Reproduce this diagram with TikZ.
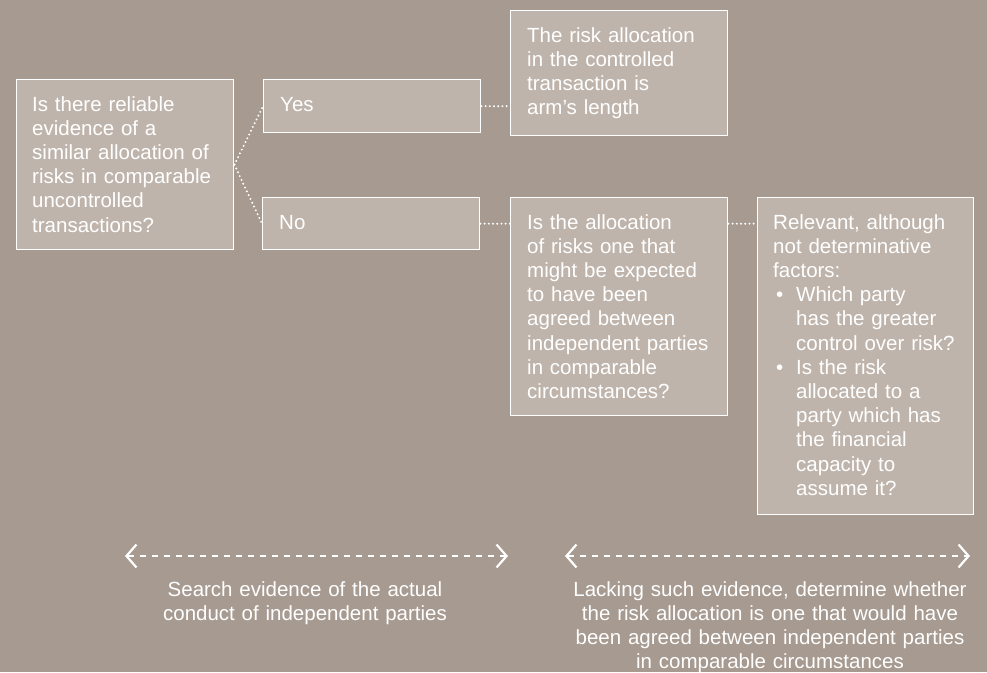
\documentclass[tikz,border=0pt]{standalone}
\usepackage{fontspec}
\setmainfont{Liberation Sans}
\usetikzlibrary{arrows.meta}
\definecolor{bg}{RGB}{166,154,145}
\definecolor{boxfill}{RGB}{191,180,171}
\begin{document}
\begin{tikzpicture}[x=1pt,y=-1pt,
  panel/.style={draw=white, line width=1.4pt, fill=boxfill, anchor=north west, inner sep=0pt},
  txt/.style={anchor=base west, inner sep=0pt, text=white, align=left, text width=#1,
    font=\fontsize{20.5}{24.2}\selectfont},
  txt/.default=200pt,
  dotline/.style={draw=white, line width=2.2pt, line cap=round, dash pattern=on 0pt off 4.2pt},
  span/.style={draw=white, line width=2pt, dash pattern=on 6pt off 6pt,
    {Straight Barb[length=10pt,width=23pt,line width=2.2pt]}-{Straight Barb[length=10pt,width=23pt,line width=2.2pt]}},
  note/.style={anchor=base, inner sep=0pt, text=white, align=center, text width=#1,
    font=\fontsize{20.5}{24.2}\selectfont}]
\useasboundingbox[fill=bg] (0,0) rectangle (987,672);

% boxes
\node[panel, minimum width=217pt, minimum height=170pt] (q) at (16,79) {};
\node[panel, minimum width=217pt, minimum height=53pt] (yes) at (263,79) {};
\node[panel, minimum width=217pt, minimum height=52pt] (no) at (262,197) {};
\node[panel, minimum width=217pt, minimum height=125pt] (res) at (510,10) {};
\node[panel, minimum width=217pt, minimum height=218pt] (mid) at (510,197) {};
\node[panel, minimum width=216pt, minimum height=317pt] (rel) at (757,197) {};

% texts
\node[txt] (qt) at (32,111) {Is there reliable\\evidence of a\\similar allocation of\\risks in comparable\\uncontrolled\\transactions?};
\node[txt] (yt) at (280,111) {Yes};
\node[txt] (nt) at (279,229) {No};
\node[txt] (rt) at (527,42) {The risk allocation\\in the controlled\\transaction is\\arm’s length};
\node[txt] (mt) at (527,229) {Is the allocation\\of risks one that\\might be expected\\to have been\\agreed between\\independent parties\\in comparable\\circumstances?};
\node[txt] (lt) at (773,229) {Relevant, although\\not determinative\\factors:\\
\makebox[23pt][l]{\hspace{3pt}•}Which party\\\hspace*{23pt}has the greater\\\hspace*{23pt}control over risk?\\
\makebox[23pt][l]{\hspace{3pt}•}Is the risk\\\hspace*{23pt}allocated to a\\\hspace*{23pt}party which has\\\hspace*{23pt}the financial\\\hspace*{23pt}capacity to\\\hspace*{23pt}assume it?};

% dotted connectors
\draw[dotline] (q.east) -- (yes.west);
\draw[dotline] (q.east) -- (no.west);
\draw[dotline] (yes.east) -- (yes.east -| res.west);
\draw[dotline] (no.east) -- (no.east -| mid.west);
\draw[dotline] (mid.east |- no.east) -- (rel.west |- no.east);

% span arrows
\coordinate (a1) at (125,556);
\coordinate (a2) at (508,556);
\coordinate (b1) at (565,556);
\coordinate (b2) at (970,556);
\draw[span] (a1) -- (a2);
\draw[span] (b1) -- (b2);

\node[note=330pt] (ln) at (305,596) {Search evidence of the actual\\conduct of independent parties};
\node[note=420pt] (rn) at (770,596) {Lacking such evidence, determine whether\\the risk allocation is one that would have\\been agreed between independent parties\\in comparable circumstances};
\end{tikzpicture}
\end{document}
